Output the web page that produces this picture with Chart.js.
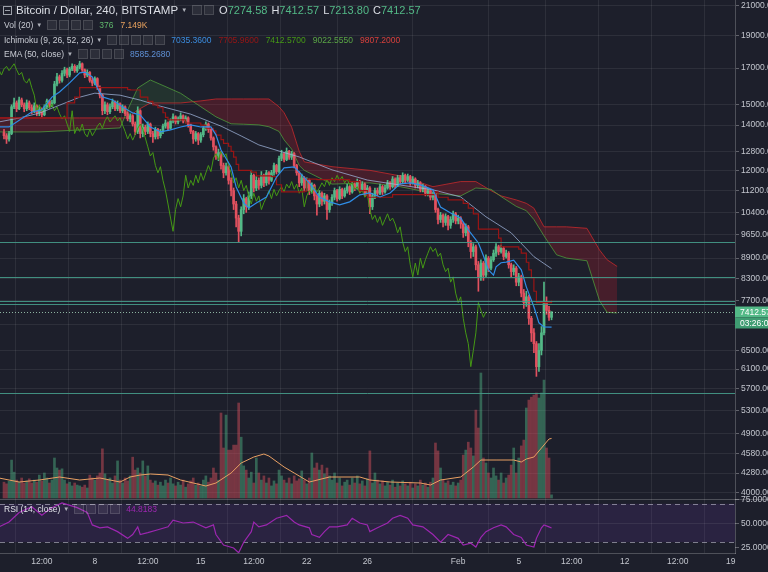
<!DOCTYPE html>
<html>
<head>
<meta charset="utf-8">
<title>Bitcoin / Dollar, 240, BITSTAMP</title>
<script src="https://cdn.jsdelivr.net/npm/chart.js@4.4.1/dist/chart.umd.min.js"></script>
<style>
  html, body { margin: 0; padding: 0; background: #1d1f2b; overflow: hidden; }
  #wrap { position: relative; width: 768px; height: 572px; }
  #chart { position: absolute; left: 0; top: 0; }
  .row { position: absolute; left: 4px; display: flex; align-items: center; white-space: nowrap;
         font-family: "Liberation Sans", Arial, sans-serif; color: #c8cbd3; font-size: 8.5px; }
  .row span { margin-right: 3px; }
  .ttl { font-size: 11.5px; color: #dcdfe6; }
  .ohlc { font-size: 11px; color: #dcdfe6; }
  .car { font-size: 6px; color: #aeb1b9; margin-right: 5px !important; }
  .ico { display: inline-block; width: 10px; height: 10px; margin-right: 2px !important;
         background: rgba(255,255,255,0.07); border: 1px solid rgba(255,255,255,0.13); box-sizing: border-box; }
  .col { display: inline-block; width: 9px; height: 9px; border: 1px solid #9ca0a9; box-sizing: border-box;
         position: relative; margin-right: 4px !important; }
  .col::after { content: ''; position: absolute; left: 1px; right: 1px; top: 3px; height: 1px; background: #9ca0a9; }
  .k { margin-right: 0 !important; }
  .v { margin-right: 7px !important; }
  .ov { margin-right: 4px !important; color: #53b987; }
</style>
</head>
<body>
<div id="wrap">
  <canvas id="chart" width="768" height="572"></canvas>

  <div class="row" style="top:4px;left:3px">
    <span class="col"></span><span class="ttl">Bitcoin / Dollar, 240, BITSTAMP</span><span class="car">▼</span>
    <span class="ico"></span><span class="ico" style="margin-right:5px !important"></span>
    <span class="ohlc k">O</span><span class="ohlc ov">7274.58</span>
    <span class="ohlc k">H</span><span class="ohlc ov">7412.57</span>
    <span class="ohlc k">L</span><span class="ohlc ov">7213.80</span>
    <span class="ohlc k">C</span><span class="ohlc ov">7412.57</span>
  </div>
  <div class="row" style="top:20px">
    <span>Vol (20)</span><span class="car">▼</span>
    <span class="ico"></span><span class="ico"></span><span class="ico"></span><span class="ico" style="margin-right:6px !important"></span>
    <span class="v" style="color:#5fb86c">376</span><span class="v" style="color:#e9a25e">7.149K</span>
  </div>
  <div class="row" style="top:35px">
    <span>Ichimoku (9, 26, 52, 26)</span><span class="car">▼</span>
    <span class="ico"></span><span class="ico"></span><span class="ico"></span><span class="ico"></span><span class="ico" style="margin-right:6px !important"></span>
    <span class="v" style="color:#3b8de0">7035.3600</span><span class="v" style="color:#991515">7705.9600</span>
    <span class="v" style="color:#459915">7412.5700</span><span class="v" style="color:#5aa545">9022.5550</span>
    <span class="v" style="color:#d8403c">9807.2000</span>
  </div>
  <div class="row" style="top:49px">
    <span>EMA (50, close)</span><span class="car">▼</span>
    <span class="ico"></span><span class="ico"></span><span class="ico"></span><span class="ico" style="margin-right:6px !important"></span>
    <span class="v" style="color:#5e8fd4">8585.2680</span>
  </div>
  <div class="row" style="top:504px">
    <span style="color:#e0e2e8">RSI (14, close)</span><span class="car">▼</span>
    <span class="ico"></span><span class="ico"></span><span class="ico"></span><span class="ico" style="margin-right:6px !important"></span>
    <span class="v" style="color:#9c27b0">44.8183</span>
  </div>
</div>

<script>
// 4h candles, index 0 = first visible candle (Jan 2), index 217 = last (Feb 7)
const firstOpen = 13650;
const closes = [
  13500,13350,13600,14900,15100,14800,15250,15000,14800,15100,
  14850,14700,14950,14600,14750,14500,14900,15200,14950,15100,
  16100,16500,16300,16700,16900,16600,16950,17100,16850,17050,
  17250,16900,16600,16750,16300,16150,16400,15900,15500,14700,
  15000,14650,14900,15150,14800,15050,14700,14900,14550,14300,
  14450,14050,13700,14700,13600,13900,13700,14050,13600,13450,
  13800,13500,13700,13950,14100,13850,14200,14400,14150,14300,
  14450,14200,14350,14000,13700,13350,13600,13300,13550,13850,
  14050,13800,13400,13000,12600,12750,12200,11900,12150,11600,
  11200,10700,10200,9750,10500,10900,10600,11000,11800,11300,
  11600,11400,11800,11500,11900,11600,11900,12200,11950,12500,
  12700,12450,12800,12550,12700,12200,11900,11500,11700,11300,
  11600,11200,11400,11000,10700,11100,10800,11000,10500,10750,
  10950,11200,10900,11250,11000,11200,11350,11150,11450,11300,
  11550,11250,11450,11100,11300,10600,11000,11200,11100,11350,
  11150,11300,11500,11350,11650,11400,11700,11550,11800,11600,
  11750,11500,11650,11400,11500,11250,11350,11100,11200,10950,
  11050,10500,10150,10300,10050,10250,9950,10150,10350,10100,
  10200,10000,9700,9900,9400,9100,9250,8700,8350,8750,
  8400,8900,8600,8850,9050,9250,9100,9200,8950,9050,
  8700,8500,8600,8200,8350,7900,7650,7800,7250,6900,
  6650,6150,6500,6900,7650,7450,7274.58,7412.57
];
const highs = [
  13800,13600,13700,15000,15350,15200,15400,15350,15100,15250,
  15200,15000,15100,15000,14900,14850,15000,15300,15250,15250,
  16250,16700,16600,16850,17050,17000,17050,17250,17200,17150,
  17400,17300,16950,16900,16800,16450,16500,16450,16000,15550,
  15150,15100,15050,15300,15200,15200,15100,15000,14950,14650,
  14550,14500,14150,14900,14750,14050,14000,14150,14100,13700,
  13900,13850,13800,14050,14250,14150,14300,14550,14450,14400,
  14600,14500,14450,14400,14050,13750,13700,13650,13650,13950,
  14150,14100,13850,13450,13050,12900,12800,12300,12300,12200,
  11700,11300,10800,10300,10600,11050,10950,11150,12000,11850,
  11750,11700,11950,11850,12000,11950,12000,12300,12250,12600,
  12850,12750,12950,12850,12800,12750,12250,11950,11850,11750,
  11700,11650,11500,11450,11050,11200,11150,11100,11050,10850,
  11050,11300,11250,11350,11300,11300,11450,11400,11550,11500,
  11650,11600,11550,11500,11400,11350,11100,11300,11300,11450,
  11400,11400,11600,11550,11750,11700,11800,11800,11900,11850,
  11850,11800,11750,11700,11600,11550,11450,11400,11300,11250,
  11150,11100,10550,10400,10350,10350,10300,10250,10450,10400,
  10300,10250,10050,10000,9950,9450,9350,9300,8800,8850,
  8800,9000,8950,8950,9150,9350,9300,9300,9250,9150,
  9100,8750,8700,8650,8450,8400,8000,7950,7850,7300,
  7000,6700,6650,7050,8200,7800,7550,7412.57
];
const lows = [
  13350,13150,13250,13550,14800,14650,14750,14900,14650,14700,
  14750,14550,14600,14450,14450,14400,14450,14800,14850,14900,
  15050,16000,16150,16200,16550,16450,16500,16850,16750,16750,
  16950,16800,16450,16500,16200,16000,16050,15800,15350,14500,
  14550,14500,14550,14800,14700,14700,14600,14600,14450,14200,
  14150,13950,13550,13600,13400,13450,13550,13600,13450,13200,
  13350,13350,13400,13600,13850,13750,13800,14100,14050,14050,
  14200,14100,14100,13900,13600,13150,13250,13100,13200,13450,
  13750,13650,13300,12850,12450,12400,12050,11700,11800,11450,
  11000,10500,9900,9400,9600,10350,10400,10500,10900,11150,
  11200,11250,11300,11350,11400,11450,11550,11800,11850,11900,
  12400,12350,12400,12450,12450,12100,11800,11350,11400,11200,
  11200,11050,11100,10850,10300,10600,10650,10700,10150,10400,
  10650,10850,10800,10850,10900,10950,11100,11050,11100,11200,
  11250,11150,11200,11000,11050,10350,10500,10900,11000,11050,
  11050,11100,11250,11250,11300,11300,11350,11450,11500,11500,
  11550,11400,11450,11300,11300,11150,11150,11000,11000,10850,
  10850,10400,10000,10050,9900,9950,9800,9850,10050,10000,
  10000,9850,9550,9600,9250,8900,8950,8550,7950,8250,
  8250,8350,8500,8550,8800,8950,9000,9050,8850,8900,
  8600,8350,8400,8100,8100,7800,7500,7550,7100,6700,
  6450,5950,6050,6400,6850,7350,7200,7213.80
];
const volumes = [
  1900,1700,2000,4550,3100,2150,1900,2400,1800,2050,
  2300,1800,2150,1900,2750,2050,3000,2400,1800,2150,
  4800,3600,3350,3500,2150,1700,1900,1450,1800,1550,
  1450,1300,1550,1200,2750,2400,2150,2650,3000,5900,
  2900,2150,2400,1800,2650,4450,2150,1800,2400,2050,
  2650,4900,3350,3600,3000,4450,2650,3850,2150,1800,
  2050,1550,1900,1450,2150,1800,2400,1700,1450,1900,
  1550,2150,1300,1700,2050,2400,1550,1800,1450,2150,
  2650,1900,2400,3600,3000,2150,10200,6000,9950,5750,
  5750,6350,6350,11400,7300,3850,3350,2400,3100,1800,
  4800,3000,2150,2650,1800,2400,1450,2050,1700,3350,
  2650,2150,1800,2400,1700,2650,2050,2300,3250,2150,
  1700,2400,5400,3600,4200,3350,3950,2900,3600,2650,
  2150,3000,1800,2400,1450,1900,2150,1550,2400,1800,
  2650,1700,2050,1450,2300,5650,1800,3000,2150,1700,
  2050,1450,1900,1550,2150,1300,1800,1450,2050,1700,
  1450,1900,1200,1700,1450,2150,1550,1800,1300,1900,
  2400,6600,5650,3600,2150,1800,2050,1550,1900,1450,
  1800,2150,5150,5750,6700,6000,5050,10550,8400,15000,
  4800,4200,3000,2400,3600,2650,2150,3000,1800,2400,
  2750,3950,6000,3000,4800,6250,6950,10800,11750,12100,
  12350,12600,12000,12600,14150,6000,4800,376
];

// Volume SMA(20)
const vmaIdx = [-2,6,14,22,30,38,46,50,54,58,65,70,75,80,84,90,94,99,103,105,111,115,121,129,141,145,153,165,169,173,181,186,189,195,202,205,207,210,214,216,217];
const vmaVal = [2400,1920,2160,2520,2160,2400,1920,2520,2760,2880,2760,2160,1800,1440,1800,3000,4200,4920,5280,5040,3720,3000,1920,2520,2520,2160,1920,1800,1560,2160,2520,3720,4560,4560,4560,4320,4680,4920,6360,7080,7149];

// EMA(50)
const emaIdx = [-2,6,14,22,30,36,46,54,62,74,86,94,101,109,117,130,144,157,170,181,191,201,210,217];
const emaVal = [14150,14340,14580,14980,15395,15605,15500,15240,14930,14530,13950,13490,13085,12815,12560,12020,11610,11415,11230,10960,10245,9700,8945,8585.27];

// Ichimoku: conversion (tenkan), base (kijun), leading spans (cloud, 26 bars ahead)
const tenIdx = [-2,2,11,15,19,22,26,30,32,35,37,39,43,47,51,54,58,62,66,70,74,78,82,84,86,90,92,95,97,100,104,108,111,115,117,121,125,129,133,137,141,145,149,153,157,161,165,170,173,177,181,184,188,190,192,194,195,197,199,202,205,207,210,212,214,217];
const tenVal = [13910,13910,14640,14740,15400,15670,16160,16720,16770,16490,15880,15410,15250,14890,14590,14490,13910,13680,13770,13910,14010,13910,13910,13540,12860,12140,11340,10740,10560,10740,10960,11730,12100,12140,11930,11500,10960,10780,10670,10780,11040,11110,10960,11110,11460,11500,11420,11230,10590,10380,10200,9800,9370,8970,8550,8400,8640,8760,8780,8840,8550,8070,7540,7140,7040,7035.36];
const kijIdx = [-2,12,25,28,30,49,50,54,57,59,61,63,64,65,72,78,80,83,84,86,87,89,90,91,92,93,98,100,106,108,110,119,120,124,137,141,144,153,154,171,172,176,182,184,186,188,196,197,204,205,207,208,209,210,211,217];
const kijVal = [14344,14344,15100,15400,15900,15800,15775,15400,15175,15000,14850,14600,14375,14250,14100,14000,13850,13725,13525,13325,13150,13025,12800,12550,12250,12000,11925,11775,11750,11425,11150,11175,11650,11625,11550,11200,10950,10950,11050,11150,10950,10850,10725,10550,10350,9825,9525,9250,9175,9050,8775,8550,8325,7950,7650,7705.96];
const cloudIdx = [-2,14,30,46,49,53,58,65,70,78,84,90,95,101,105,109,111,114,117,119,130,145,157,170,181,187,193,197,203,207,210,214,219,223,231,236,239,243];
const spanA = [13676,13676,13769,13865,14739,15884,16323,15900,15600,14900,14400,14060,14040,14010,13920,13700,13310,12900,12200,12000,11450,11500,11350,11100,11000,11300,11250,10975,10615,10460,10150,9600,9000,8900,8820,7700,7400,7383];
const spanB = [14344,14344,14344,14344,14344,14739,15093,15093,15093,15200,15300,15300,15300,15300,15300,14900,14600,13900,12800,12350,12150,12000,11775,11350,11550,11550,11200,11000,10850,10725,10550,9900,9900,9900,9850,9150,8850,8650];
const lagShift = 26;

// RSI(14)
const rsiIdx = [-2,2,6,11,15,19,23,29,33,35,38,41,45,49,51,53,54,57,61,65,67,71,75,80,83,84,87,91,93,95,98,99,101,104,108,112,115,117,121,122,125,127,129,132,136,138,141,144,145,148,152,154,157,160,162,166,170,173,176,180,182,185,187,189,191,194,197,199,202,205,207,210,211,213,214,216,217];
const rsiVal = [46,51,61,67,58,66,71,66,61,48,45,46,41,34,38,46,38,40,43,46,53,50,51,45,48,38,27,24,19,30,41,51,46,48,55,58,51,48,45,38,35,41,46,46,48,55,50,48,41,45,50,55,58,55,48,46,38,30,38,34,27,29,25,35,41,45,48,46,38,35,27,25,34,45,48,46,44.82];
const rsiBand = [30, 70];
const rsiLabels = [75, 50, 25];

// axes
const priceTicks = [21000,19000,17000,15000,14000,12800,12000,11200,10400,9650,8900,8300,7700,7100,6500,6100,5700,5300,4900,4580,4280,4000];
const xTickIdx = [15,36,57,78,99,120,144,180,204,225,246,267,288];
const xTickLbl = ['12:00','8','12:00','15','12:00','22','26','Feb','5','12:00','12','12:00','19'];

// drawn horizontal levels
const levels = [9400, 8345, 7700, 7610, 5620];
const countdown = '03:26:07';

const UP = '#53b987', DOWN = '#e2515f';
const GRID = 'rgba(255,255,255,0.075)';
const TXT = '#c3c6ce';
const FONT = '"Liberation Sans", Arial, sans-serif';

const opens = closes.map((c, i) => (i === 0 ? firstOpen : closes[i - 1]));
const isUp = closes.map((c, i) => c >= opens[i]);
const pts = (idx, val) => idx.map((x, k) => ({ x: x, y: val[k] }));
const lastClose = closes[closes.length - 1];

function hline(ctx, x1, x2, y) {
  ctx.beginPath();
  ctx.moveTo(x1, y);
  ctx.lineTo(x2, y);
  ctx.stroke();
}

const extras = {
  id: 'extras',
  beforeDatasetsDraw(chart) {
    const { ctx, chartArea: a, scales } = chart;
    const yr = scales.yr, yv = scales.yv;
    const top = yr.getPixelForValue(rsiBand[1]);
    const bot = yr.getPixelForValue(rsiBand[0]);
    ctx.save();
    ctx.fillStyle = 'rgba(110,55,180,0.16)';
    ctx.fillRect(a.left, top, a.right - a.left, bot - top);
    ctx.lineWidth = 1;
    ctx.strokeStyle = GRID;
    hline(ctx, a.left, a.right, Math.round(yr.getPixelForValue(50)) + 0.5);
    ctx.setLineDash([5, 4]);
    ctx.strokeStyle = 'rgba(205,205,220,0.55)';
    hline(ctx, a.left, a.right, Math.round(top) + 0.5);
    hline(ctx, a.left, a.right, Math.round(bot) + 0.5);
    ctx.setLineDash([]);
    ctx.strokeStyle = 'rgba(255,255,255,0.22)';
    hline(ctx, 0, chart.width, Math.round(yv.getPixelForValue(0)) + 1.5);
    ctx.restore();
  },
  afterDatasetsDraw(chart) {
    const { ctx, chartArea: a, scales } = chart;
    const y = scales.y;
    ctx.save();
    ctx.lineWidth = 1;
    ctx.strokeStyle = 'rgba(70,155,138,0.9)';
    levels.forEach(v => hline(ctx, a.left, a.right, Math.round(y.getPixelForValue(v)) + 0.5));
    ctx.setLineDash([1, 2]);
    ctx.strokeStyle = 'rgba(170,215,190,0.8)';
    hline(ctx, a.left, a.right, Math.round(y.getPixelForValue(lastClose)) + 0.5);
    ctx.restore();
  },
  afterDraw(chart) {
    const { ctx, chartArea: a, scales } = chart;
    const y = scales.y, yr = scales.yr;
    ctx.save();
    ctx.font = '8.5px ' + FONT;
    ctx.textBaseline = 'middle';
    // RSI scale labels
    ctx.strokeStyle = 'rgba(255,255,255,0.3)';
    ctx.fillStyle = TXT;
    rsiLabels.forEach(v => {
      const py = Math.round(yr.getPixelForValue(v)) + 0.5;
      hline(ctx, a.right, a.right + 4, py);
      ctx.fillText(v.toFixed(4), a.right + 6, py);
    });
    // last price and countdown
    const py = y.getPixelForValue(lastClose);
    ctx.fillStyle = UP;
    ctx.fillRect(a.right, Math.round(py) - 5.5, chart.width - a.right, 11);
    ctx.fillStyle = '#3f9c72';
    ctx.fillRect(a.right, Math.round(py) + 5.5, chart.width - a.right, 11);
    ctx.fillStyle = '#ffffff';
    ctx.fillText(lastClose.toFixed(2), a.right + 5, Math.round(py) + 0.5);
    ctx.fillText(countdown, a.right + 5, Math.round(py) + 11.5);
    ctx.restore();
  }
};

new Chart(document.getElementById('chart'), {
  type: 'bar',
  data: {
    datasets: [
      {
        type: 'line', label: 'Lead 1', data: pts(cloudIdx, spanA), yAxisID: 'y', order: 10,
        borderColor: 'rgba(80,160,60,0.75)', borderWidth: 1, pointRadius: 0,
        fill: { target: '+1', above: 'rgba(76,175,80,0.14)', below: 'rgba(200,30,45,0.24)' }
      },
      {
        type: 'line', label: 'Lead 2', data: pts(cloudIdx, spanB), yAxisID: 'y', order: 10,
        borderColor: 'rgba(205,40,45,0.8)', borderWidth: 1, pointRadius: 0, fill: false
      },
      {
        label: 'Volume', data: volumes.map((v, i) => ({ x: i, y: v })), yAxisID: 'yv', order: 9,
        backgroundColor: isUp.map(u => (u ? 'rgba(83,185,135,0.45)' : 'rgba(226,81,95,0.45)')),
        barThickness: 2, grouped: false
      },
      {
        type: 'line', label: 'Vol MA', data: pts(vmaIdx, vmaVal), yAxisID: 'yv', order: 8,
        borderColor: '#e9a063', borderWidth: 1, pointRadius: 0
      },
      {
        label: 'Wicks', data: closes.map((c, i) => ({ x: i, y: [lows[i], highs[i]] })), yAxisID: 'y', order: 7,
        backgroundColor: isUp.map(u => (u ? UP : DOWN)), barThickness: 1, grouped: false
      },
      {
        label: 'Bodies', data: closes.map((c, i) => ({ x: i, y: [opens[i], c] })), yAxisID: 'y', order: 6,
        backgroundColor: isUp.map(u => (u ? UP : DOWN)), barThickness: 2, minBarLength: 1, grouped: false
      },
      {
        type: 'line', label: 'Lagging', data: closes.map((c, i) => ({ x: i - lagShift, y: c })), yAxisID: 'y', order: 5,
        borderColor: '#459915', borderWidth: 1, pointRadius: 0
      },
      {
        type: 'line', label: 'EMA 50', data: pts(emaIdx, emaVal), yAxisID: 'y', order: 4,
        borderColor: 'rgba(160,182,220,0.75)', borderWidth: 1, pointRadius: 0
      },
      {
        type: 'line', label: 'Base', data: pts(kijIdx, kijVal), yAxisID: 'y', order: 3,
        borderColor: '#991515', borderWidth: 1.2, pointRadius: 0, stepped: true
      },
      {
        type: 'line', label: 'Conversion', data: pts(tenIdx, tenVal), yAxisID: 'y', order: 2,
        borderColor: '#2f8ee8', borderWidth: 1.2, pointRadius: 0
      },
      {
        type: 'line', label: 'RSI', data: pts(rsiIdx, rsiVal), yAxisID: 'yr', order: 1,
        borderColor: '#9c27b0', borderWidth: 1.2, pointRadius: 0
      }
    ]
  },
  options: {
    responsive: false,
    animation: false,
    events: [],
    devicePixelRatio: 1,
    layout: { padding: 0 },
    plugins: { legend: { display: false }, tooltip: { enabled: false } },
    scales: {
      x: {
        type: 'linear', position: 'bottom', min: -1.585, max: 289.7, offset: false,
        afterBuildTicks: s => { s.ticks = xTickIdx.map(v => ({ value: v })); },
        afterFit: s => { s.height = 19; s.paddingLeft = 0; s.paddingRight = 0; },
        ticks: {
          autoSkip: false, maxRotation: 0, padding: 4, color: TXT,
          font: { size: 8.5, family: FONT },
          callback: v => xTickLbl[xTickIdx.indexOf(v)]
        },
        grid: { color: GRID, drawTicks: false },
        border: { display: true, color: 'rgba(255,255,255,0.22)' }
      },
      y: {
        type: 'logarithmic', position: 'right', min: 3260.7, max: 21433,
        afterBuildTicks: s => { s.ticks = priceTicks.map(v => ({ value: v })); },
        afterFit: s => { s.width = 33; s.paddingTop = 0; s.paddingBottom = 0; },
        ticks: {
          autoSkip: false, padding: 2, color: TXT, font: { size: 8.5, family: FONT },
          callback: v => Number(v).toFixed(2)
        },
        grid: { color: GRID, tickLength: 4, tickColor: 'rgba(255,255,255,0.3)' },
        border: { display: true, color: 'rgba(255,255,255,0.22)' }
      },
      yv: { type: 'linear', display: false, min: -6600, max: 59760 },
      yr: { type: 'linear', display: false, min: 18.75, max: 594.8 }
    }
  },
  plugins: [extras]
});
</script>
</body>
</html>
